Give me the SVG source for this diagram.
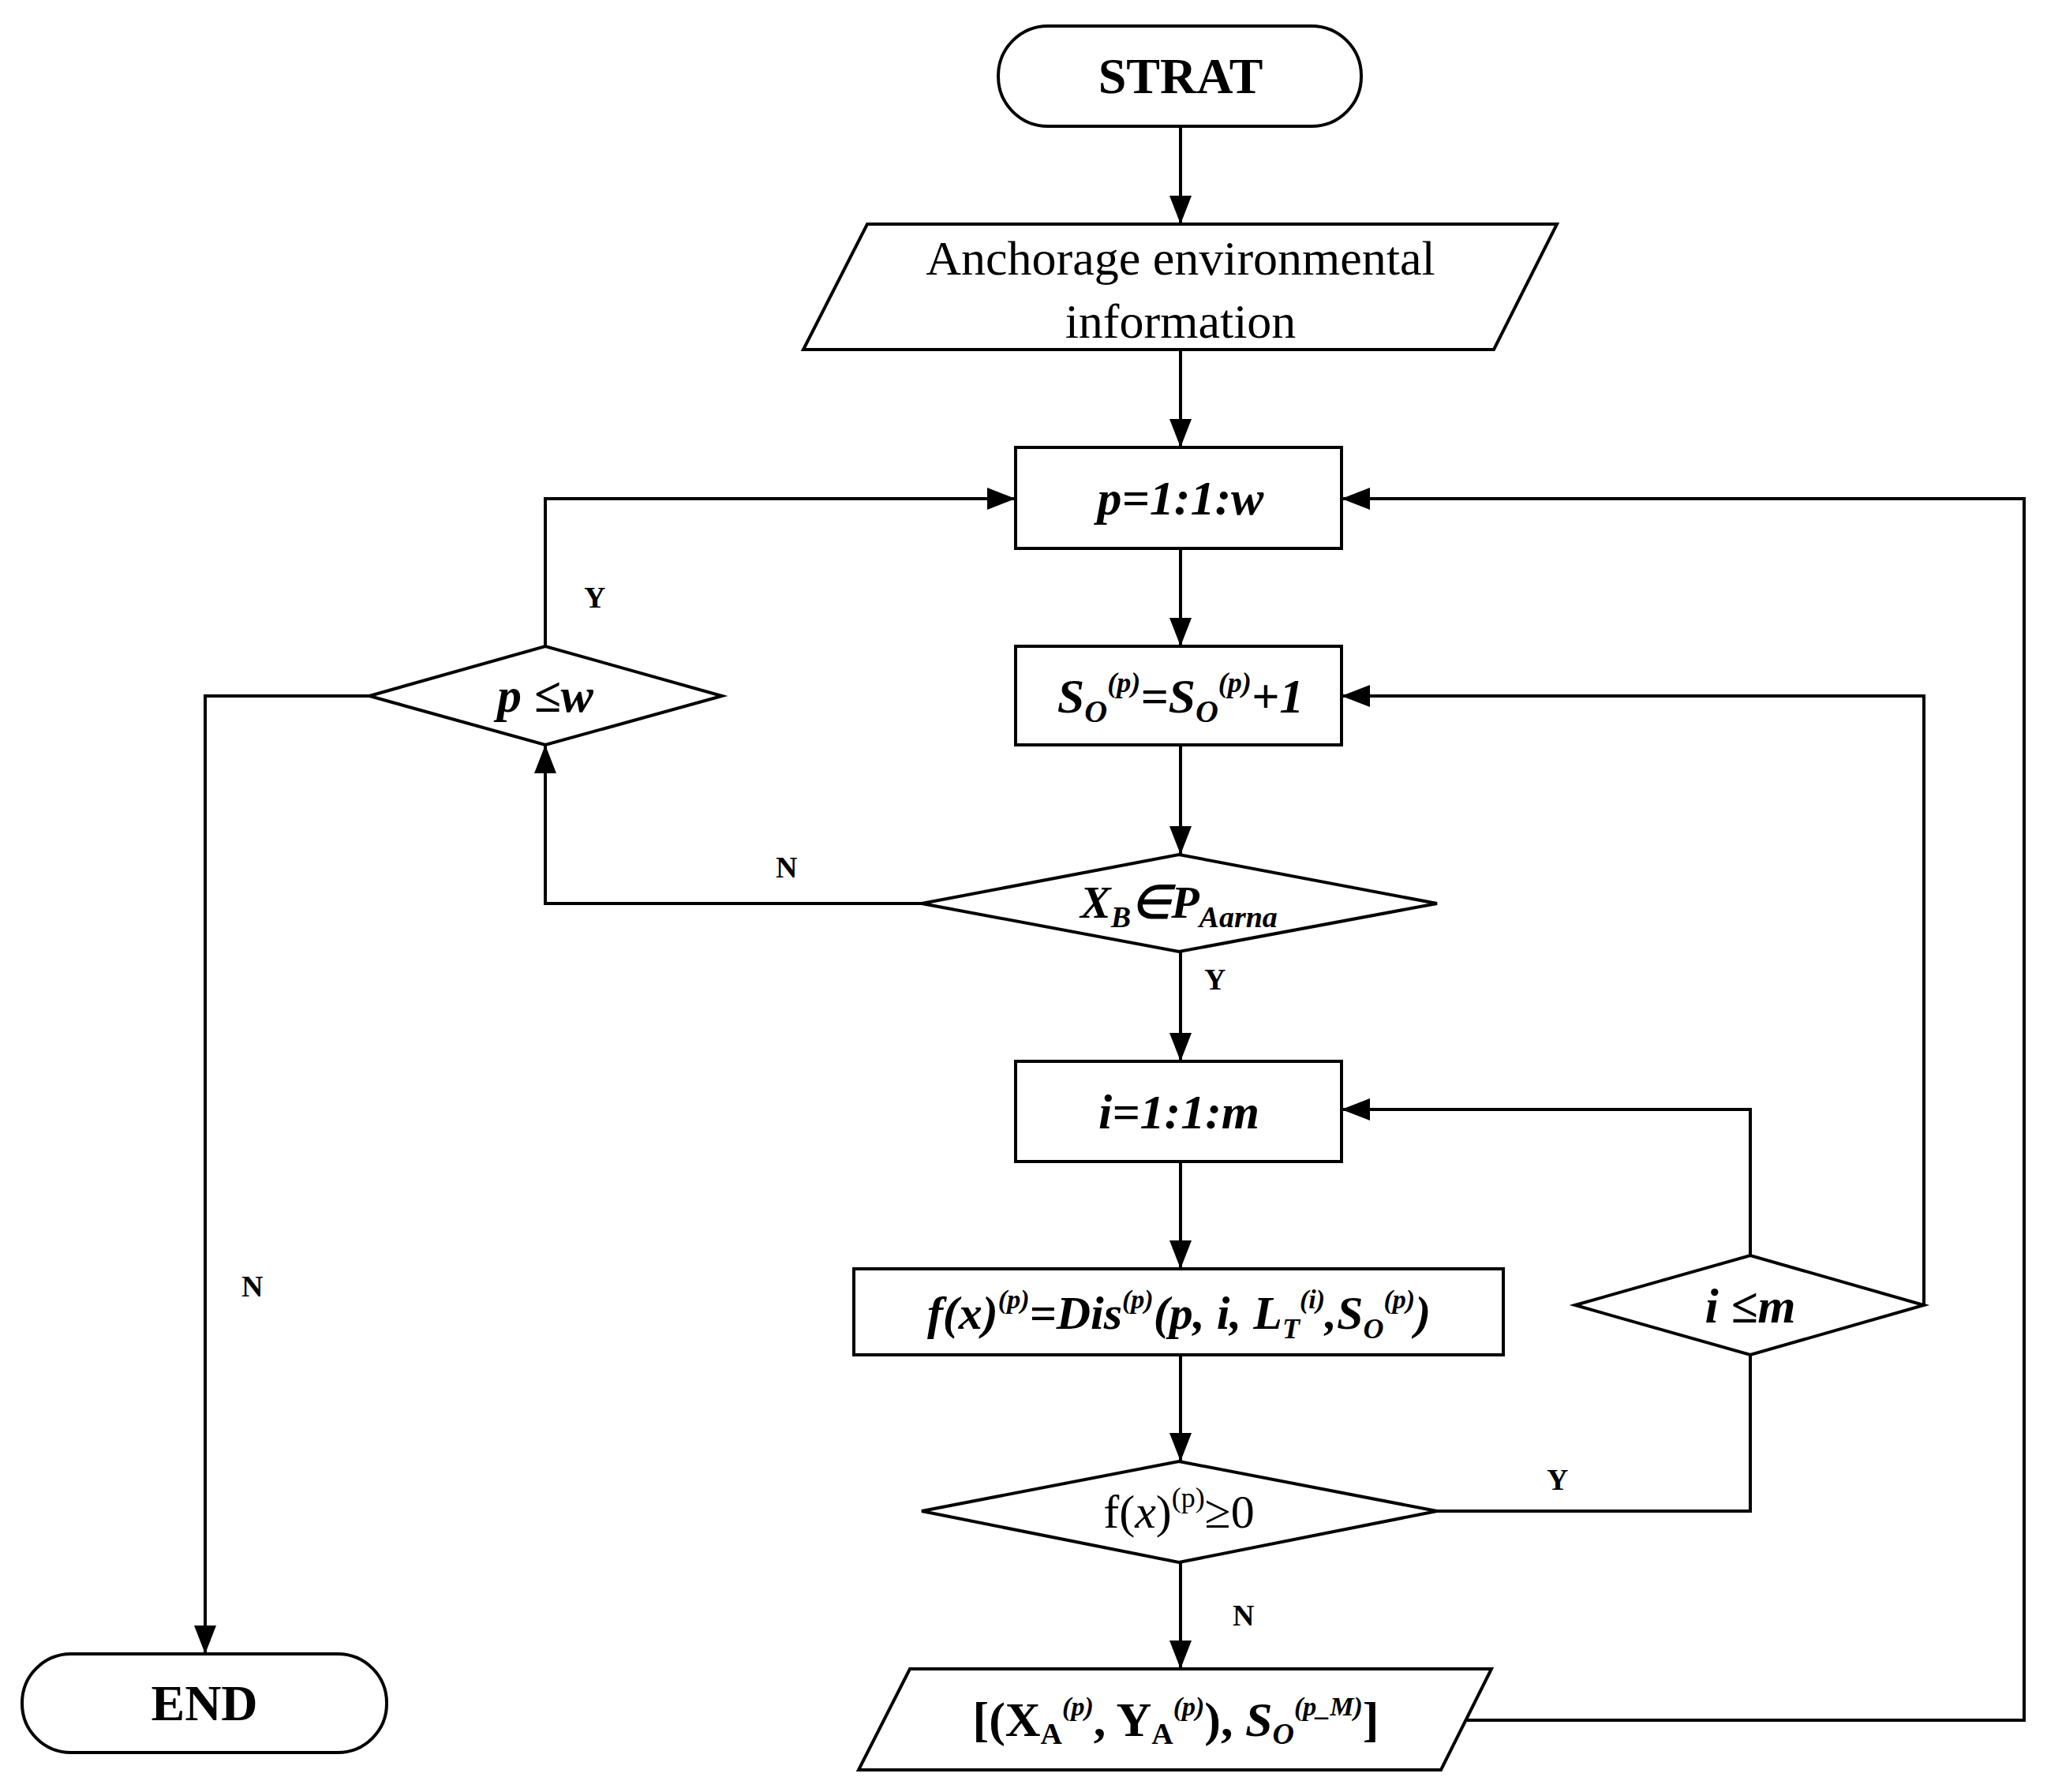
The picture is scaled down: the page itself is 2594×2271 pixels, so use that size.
<svg xmlns="http://www.w3.org/2000/svg" width="2594" height="2271" viewBox="0 0 2594 2271">
<style>
.s{fill:#fff;stroke:#000;stroke-width:4}
.c{fill:none;stroke:#000;stroke-width:4}
.t{font-family:"Liberation Serif",serif;text-anchor:middle;fill:#000}
.b{font-weight:bold}
.i{font-style:italic;font-weight:bold}
.l{font-family:"Liberation Serif",serif;font-weight:bold;font-size:38px}
</style>
<defs><marker id="a" markerWidth="12" markerHeight="10" refX="12" refY="5" orient="auto" markerUnits="userSpaceOnUse" viewBox="0 0 12 10"><path d="M0,0L12,5L0,10z" fill="#000" transform="scale(1)"/></marker>
<marker id="m" viewBox="0 0 36 28" refX="36" refY="14" markerWidth="36" markerHeight="28" orient="auto" markerUnits="userSpaceOnUse"><path d="M0,0L36,14L0,28z" fill="#000"/></marker></defs>
<g id="connectors" class="c">
<path d="M1496,160V284" marker-end="url(#m)"/>
<path d="M1496,443V567" marker-end="url(#m)"/>
<path d="M1496,695V819" marker-end="url(#m)"/>
<path d="M1496,944V1083" marker-end="url(#m)"/>
<path d="M1496,1206V1345" marker-end="url(#m)"/>
<path d="M1496,1472V1608" marker-end="url(#m)"/>
<path d="M1496,1717V1852" marker-end="url(#m)"/>
<path d="M1496,1980V2115" marker-end="url(#m)"/>
<path d="M1168,1145H691V944" marker-end="url(#m)"/>
<path d="M691,819V632H1287" marker-end="url(#m)"/>
<path d="M468,882H260V2096" marker-end="url(#m)"/>
<path d="M2218,1591V1406H1700" marker-end="url(#m)"/>
<path d="M2438,1654V882H1700" marker-end="url(#m)"/>
<path d="M1821,1915H2218V1717"/>
<path d="M1859,2180H2565V632H1700" marker-end="url(#m)"/>
</g>
<g id="start"><rect class="s" x="1265" y="33" width="460" height="127" rx="63"/><text class="t b" x="1496" y="118" font-size="64">STRAT</text></g>
<g id="input"><polygon class="s" points="1099,284 1973,284 1893,443 1018,443"/><text class="t" x="1496" y="348" font-size="62">Anchorage environmental</text><text class="t" x="1496" y="428" font-size="62">information</text></g>
<g id="ploop"><rect class="s" x="1287" y="567" width="413" height="128"/><text class="t i" x="1496" y="652" font-size="62">p=1:1:w</text></g>
<g id="so"><rect class="s" x="1287" y="819" width="413" height="125"/><text class="t i" x="1496" y="903" font-size="62">S<tspan font-size="40" dy="12">O</tspan><tspan font-size="36" dy="-38">(p)</tspan><tspan dy="26">=S</tspan><tspan font-size="40" dy="12">O</tspan><tspan font-size="36" dy="-38">(p)</tspan><tspan dy="26">+1</tspan></text></g>
<g id="xb"><polygon class="s" points="1168,1145 1494,1083 1821,1145 1494,1206"/><text class="t i" x="1494" y="1163" font-size="58">X<tspan font-size="38" dy="12">B</tspan><tspan dy="-12">∈P</tspan><tspan font-size="38" dy="12">Aarna</tspan></text></g>
<g id="pw"><polygon class="s" points="468,882 691,819 915,882 691,944"/><text class="t i" x="691" y="902" font-size="62">p ≤w</text></g>
<g id="end"><rect class="s" x="28" y="2096" width="462" height="125" rx="62"/><text class="t b" x="259" y="2180" font-size="64">END</text></g>
<g id="iloop"><rect class="s" x="1287" y="1345" width="413" height="127"/><text class="t i" x="1494" y="1430" font-size="62">i=1:1:m</text></g>
<g id="fx"><rect class="s" x="1082" y="1608" width="823" height="109"/><text class="t i" x="1494" y="1684" font-size="60">f(x)<tspan font-size="34" dy="-26">(p)</tspan><tspan dy="26">=Dis</tspan><tspan font-size="34" dy="-26">(p)</tspan><tspan dy="26">(p,  i, L</tspan><tspan font-size="36" dy="12">T</tspan><tspan font-size="34" dy="-38">(i)</tspan><tspan dy="26">,S</tspan><tspan font-size="36" dy="12">O</tspan><tspan font-size="34" dy="-38">(p)</tspan><tspan dy="26">)</tspan></text></g>
<g id="im"><polygon class="s" points="1996,1654 2218,1591 2438,1654 2218,1717"/><text class="t i" x="2218" y="1676" font-size="62">i ≤m</text></g>
<g id="fcheck"><polygon class="s" points="1168,1915 1494,1852 1821,1915 1494,1980"/><text class="t" x="1494" y="1936" font-size="60">f(<tspan font-style="italic">x</tspan>)<tspan font-size="36" dy="-26">(p)</tspan><tspan dy="26">≥0</tspan></text></g>
<g id="output"><polygon class="s" points="1153,2115 1890,2115 1826,2243 1088,2243" /><text class="t b" x="1490" y="2200" font-size="62">[(X<tspan font-size="38" dy="10">A</tspan><tspan font-size="34" dy="-36" font-style="italic">(p)</tspan><tspan dy="26">, Y</tspan><tspan font-size="38" dy="10">A</tspan><tspan font-size="34" dy="-36" font-style="italic">(p)</tspan><tspan dy="26">), </tspan><tspan font-style="italic">S</tspan><tspan font-size="38" dy="10" font-style="italic">O</tspan><tspan font-size="34" dy="-36" font-style="italic">(p_M)</tspan><tspan dy="26">]</tspan></text></g>
<g id="labels">
<text class="l" x="1526" y="1254">Y</text>
<text class="l" x="983" y="1112">N</text>
<text class="l" x="740" y="770">Y</text>
<text class="l" x="306" y="1643">N</text>
<text class="l" x="1960" y="1888">Y</text>
<text class="l" x="1562" y="2060">N</text>
</g>
</svg>
